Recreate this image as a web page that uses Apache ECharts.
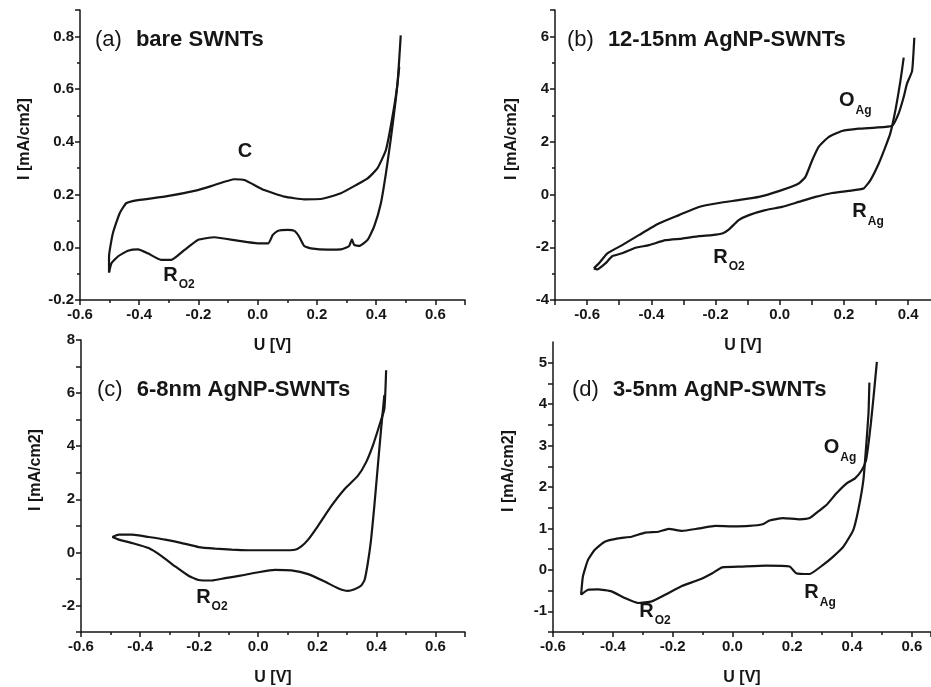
<!DOCTYPE html>
<html lang="en">
<head>
    <meta charset="UTF-8">
    <title>CV curves</title>
    <script src="https://cdn.jsdelivr.net/npm/echarts@6/dist/echarts.min.js"></script>
    <style>
        body { margin: 0; background: #fff; }
        #main { width: 931px; height: 687px; }
    </style>
</head>
<body>
    <div id="main"></div>
    <script type="text/javascript">
        // (a) bare SWNTs - upper (anodic) and lower (cathodic) branch
        const aUpU = [-0.502, -0.502, -0.489, -0.466, -0.444, -0.404, -0.315, -0.202, -0.146, -0.079, -0.045, 0.022, 0.090, 0.157, 0.213, 0.281, 0.337, 0.371, 0.404, 0.433, 0.455, 0.472, 0.483];
        const aUpI = [-0.096, -0.035, 0.053, 0.129, 0.167, 0.179, 0.192, 0.217, 0.236, 0.258, 0.255, 0.217, 0.192, 0.182, 0.183, 0.205, 0.239, 0.261, 0.299, 0.369, 0.495, 0.621, 0.804];
        const aLoU = [0.478, 0.466, 0.449, 0.433, 0.416, 0.393, 0.371, 0.343, 0.326, 0.318, 0.309, 0.281, 0.236, 0.180, 0.157, 0.140, 0.124, 0.101, 0.067, 0.051, 0.036, 0.000, -0.067, -0.146, -0.202, -0.247, -0.292, -0.326, -0.371, -0.404, -0.438, -0.472, -0.494, -0.502];
        const aLoI = [0.684, 0.558, 0.407, 0.280, 0.167, 0.078, 0.028, 0.005, 0.009, 0.030, 0.005, -0.008, -0.009, -0.004, 0.005, 0.040, 0.062, 0.066, 0.062, 0.047, 0.015, 0.015, 0.025, 0.038, 0.028, -0.010, -0.048, -0.048, -0.023, -0.008, -0.013, -0.035, -0.061, -0.096];

        // (b) 12-15nm AgNP-SWNTs
        const bUpU = [-0.579, -0.563, -0.537, -0.491, -0.439, -0.377, -0.314, -0.252, -0.190, -0.128, -0.065, -0.003, 0.059, 0.080, 0.101, 0.121, 0.152, 0.194, 0.246, 0.298, 0.350, 0.370, 0.386, 0.396, 0.412, 0.419];
        const bUpI = [-2.80, -2.61, -2.23, -1.92, -1.54, -1.10, -0.78, -0.47, -0.32, -0.21, -0.09, 0.13, 0.42, 0.67, 1.30, 1.81, 2.18, 2.41, 2.50, 2.54, 2.61, 3.07, 3.70, 4.20, 4.68, 5.95];
        const bLoU = [0.386, 0.376, 0.360, 0.344, 0.329, 0.308, 0.282, 0.261, 0.215, 0.163, 0.111, 0.059, 0.007, -0.045, -0.096, -0.128, -0.159, -0.179, -0.211, -0.252, -0.304, -0.356, -0.408, -0.449, -0.491, -0.522, -0.543, -0.569, -0.579];
        const bLoI = [5.19, 4.33, 3.19, 2.31, 1.81, 1.17, 0.54, 0.23, 0.14, 0.06, -0.09, -0.28, -0.47, -0.59, -0.78, -0.97, -1.33, -1.48, -1.54, -1.58, -1.67, -1.73, -1.92, -2.02, -2.23, -2.34, -2.61, -2.84, -2.80];

        // (c) 6-8nm AgNP-SWNTs
        const cUpU = [-0.494, -0.472, -0.427, -0.371, -0.315, -0.258, -0.202, -0.146, -0.090, -0.034, 0.022, 0.079, 0.124, 0.146, 0.169, 0.202, 0.247, 0.292, 0.337, 0.365, 0.388, 0.410, 0.427, 0.433];
        const cUpI = [0.58, 0.67, 0.67, 0.58, 0.48, 0.35, 0.20, 0.14, 0.10, 0.08, 0.08, 0.08, 0.10, 0.23, 0.48, 0.99, 1.74, 2.38, 2.88, 3.39, 4.02, 4.78, 5.41, 6.86];
        const cLoU = [0.427, 0.416, 0.404, 0.393, 0.382, 0.371, 0.360, 0.348, 0.326, 0.303, 0.270, 0.225, 0.169, 0.112, 0.056, 0.000, -0.056, -0.112, -0.157, -0.202, -0.236, -0.281, -0.326, -0.371, -0.427, -0.472, -0.494];
        const cLoI = [5.92, 4.65, 3.14, 1.74, 0.48, -0.40, -1.04, -1.26, -1.39, -1.45, -1.35, -1.10, -0.82, -0.68, -0.66, -0.75, -0.87, -0.97, -1.06, -1.04, -0.88, -0.53, -0.15, 0.16, 0.35, 0.48, 0.58];

        // (d) 3-5nm AgNP-SWNTs
        const dUpU = [-0.506, -0.500, -0.483, -0.461, -0.427, -0.382, -0.337, -0.292, -0.247, -0.213, -0.169, -0.112, -0.056, 0.000, 0.056, 0.101, 0.124, 0.169, 0.225, 0.258, 0.287, 0.315, 0.348, 0.382, 0.410, 0.433, 0.447, 0.455, 0.463, 0.472, 0.483];
        const dUpI = [-0.60, -0.16, 0.24, 0.48, 0.68, 0.76, 0.80, 0.90, 0.92, 0.99, 0.94, 1.00, 1.06, 1.05, 1.06, 1.10, 1.19, 1.25, 1.22, 1.25, 1.41, 1.57, 1.85, 2.09, 2.21, 2.41, 2.65, 3.05, 3.54, 4.18, 5.02];
        const dLoU = [0.458, 0.455, 0.447, 0.438, 0.421, 0.404, 0.371, 0.337, 0.303, 0.258, 0.213, 0.191, 0.112, 0.034, -0.034, -0.067, -0.112, -0.169, -0.225, -0.270, -0.315, -0.360, -0.404, -0.449, -0.483, -0.506];
        const dLoI = [4.52, 3.78, 2.97, 2.17, 1.45, 0.96, 0.56, 0.32, 0.12, -0.10, -0.08, 0.08, 0.10, 0.08, 0.06, -0.08, -0.24, -0.39, -0.60, -0.76, -0.80, -0.68, -0.52, -0.47, -0.48, -0.60];

        // panel titles and peak labels [U, I, main, subscript]
        const panelTags = ['(a)', '(b)', '(c)', '(d)'];
        const panelNames = ['bare SWNTs', '12-15nm AgNP-SWNTs', '6-8nm AgNP-SWNTs', '3-5nm AgNP-SWNTs'];
        const aPeaks = [[-0.043, 0.358, 'C', ''], [-0.266, -0.109, 'R', 'O2']];
        const bPeaks = [[0.235, 3.53, 'O', 'Ag'], [0.275, -0.68, 'R', 'Ag'], [-0.158, -2.41, 'R', 'O2']];
        const cPeaks = [[-0.157, -1.72, 'R', 'O2']];
        const dPeaks = [[0.36, 2.93, 'O', 'Ag'], [0.293, -0.58, 'R', 'Ag'], [-0.259, -1.02, 'R', 'O2']];

        const FONT = 'Liberation Sans';
        const INK = '#161616';

        const zip = (u, i) => u.map((v, k) => [v, i[k]]);

        function xAxis(idx, min, max, interval, fmt) {
            return {
                type: 'value', gridIndex: idx, min: min, max: max, interval: interval,
                name: 'U [V]', nameLocation: 'middle', nameGap: 38,
                nameTextStyle: { fontFamily: FONT, fontWeight: 'bold', fontSize: 16, color: INK },
                axisLine: { onZero: false, lineStyle: { color: INK, width: 1.5 } },
                axisTick: { length: 5, lineStyle: { color: INK, width: 1.5 } },
                minorTick: { show: interval === 0.2, splitNumber: 2, length: 3, lineStyle: { color: INK, width: 1.5 } },
                splitLine: { show: false },
                axisLabel: { fontFamily: FONT, fontWeight: 'bold', fontSize: 15, color: INK, margin: 7, showMaxLabel: false, formatter: fmt }
            };
        }

        function yAxis(idx, min, max, interval, fmt, gap, minor, topLabel) {
            return {
                type: 'value', gridIndex: idx, min: min, max: max, interval: interval,
                name: 'I [mA/cm2]', nameLocation: 'middle', nameGap: gap,
                nameTextStyle: { fontFamily: FONT, fontWeight: 'bold', fontSize: 16, color: INK, padding: [0, 0, 0, 32] },
                axisLine: { onZero: false, lineStyle: { color: INK, width: 1.5 } },
                axisTick: { length: 5, lineStyle: { color: INK, width: 1.5 } },
                minorTick: { show: minor, splitNumber: 2, length: 3, lineStyle: { color: INK, width: 1.5 } },
                splitLine: { show: false },
                axisLabel: { fontFamily: FONT, fontWeight: 'bold', fontSize: 15, color: INK, margin: 6, showMaxLabel: !!topLabel, formatter: fmt }
            };
        }

        function peakMarks(peaks) {
            return {
                symbol: 'circle', symbolSize: 0, silent: true,
                itemStyle: { color: 'transparent' },
                label: {
                    show: true, position: 'inside',
                    formatter: p => '{m|' + p.data.main + '}' + (p.data.sub ? '{s|' + p.data.sub + '}' : ''),
                    rich: {
                        m: { fontFamily: FONT, fontSize: 20, fontWeight: 'bold', color: INK, verticalAlign: 'top', lineHeight: 22 },
                        s: { fontFamily: FONT, fontSize: 12, fontWeight: 'bold', color: INK, verticalAlign: 'top', lineHeight: 12, padding: [14, 0, 0, 1] }
                    }
                },
                data: peaks.map(p => ({ coord: [p[0], p[1]], main: p[2], sub: p[3] }))
            };
        }

        function branch(idx, data, peaks) {
            const s = {
                type: 'line', xAxisIndex: idx, yAxisIndex: idx, data: data,
                showSymbol: false, smooth: 0.15,
                lineStyle: { color: INK, width: 2.2 }
            };
            if (peaks) s.markPoint = peakMarks(peaks);
            return s;
        }

        const titlePos = [[95, 29], [567, 29], [97, 379], [572, 379]];

        var chart = echarts.init(document.getElementById('main'));
        var option = {
            backgroundColor: '#fff',
            animation: false,
            title: panelTags.map((t, k) => ({
                text: '{n|' + t + '}{b|' + panelNames[k] + '}',
                left: titlePos[k][0], top: titlePos[k][1], padding: 0,
                textStyle: {
                    rich: {
                        n: { fontFamily: FONT, fontSize: 22, fontWeight: 'normal', color: INK },
                        b: { fontFamily: FONT, fontSize: 22, fontWeight: 'bold', color: INK, padding: [0, 0, 0, 14] }
                    }
                }
            })),
            grid: [
                { left: 80, right: 466, top: 10, bottom: 387 },
                { left: 555, right: 0, top: 10, bottom: 387 },
                { left: 81, right: 466, top: 340, bottom: 54 },
                { left: 553, right: 0, top: 342, bottom: 55 }
            ],
            xAxis: [
                xAxis(0, -0.6, 0.7, 0.2, v => v.toFixed(1)),
                // right panels are cut off by the image edge
                xAxis(1, -0.7, 0.471, 0.1, v => (Math.round(v * 10) % 2 === 0 ? v.toFixed(1) : '')),
                xAxis(2, -0.6, 0.7, 0.2, v => v.toFixed(1)),
                xAxis(3, -0.6, 0.664, 0.2, v => v.toFixed(1))
            ],
            yAxis: [
                yAxis(0, -0.2, 0.9, 0.2, v => v.toFixed(1), 47, true),
                yAxis(1, -4, 7, 2, v => '' + v, 35, true),
                yAxis(2, -3, 8, 1, v => (Math.round(v) % 2 === 0 ? '' + Math.round(v) : ''), 37, false, true),
                yAxis(3, -1.5, 5.5, 0.5, v => (Math.abs(v - Math.round(v)) < 1e-6 ? '' + Math.round(v) : ''), 36, false)
            ],
            series: [
                branch(0, zip(aUpU, aUpI), aPeaks),
                branch(0, zip(aLoU, aLoI)),
                branch(1, zip(bUpU, bUpI), bPeaks),
                branch(1, zip(bLoU, bLoI)),
                branch(2, zip(cUpU, cUpI), cPeaks),
                branch(2, zip(cLoU, cLoI)),
                branch(3, zip(dUpU, dUpI), dPeaks),
                branch(3, zip(dLoU, dLoI))
            ]
        };
        chart.setOption(option);
    </script>
</body>
</html>
